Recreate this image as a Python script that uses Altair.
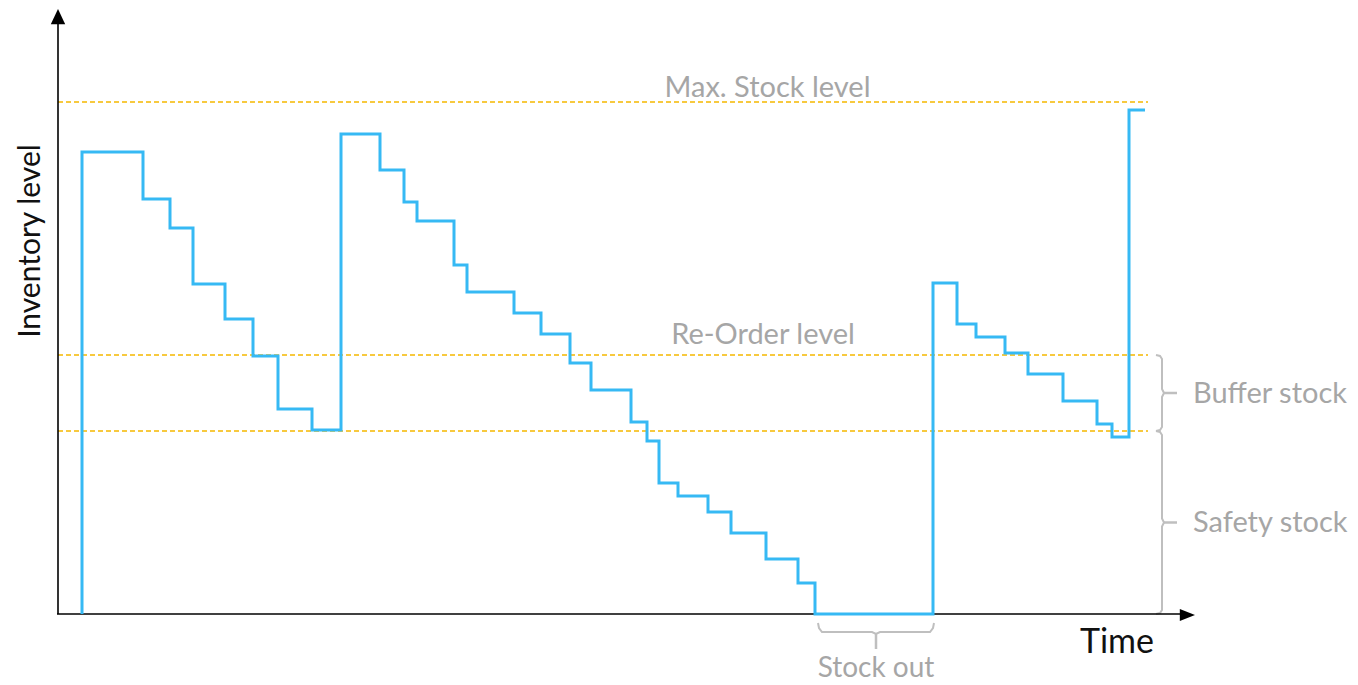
import altair as alt
import pandas as pd

# ---- data (time / inventory level units) ----
time = [24, 24, 85, 112, 135, 167, 195, 220, 254, 283, 322, 346, 359, 396, 409, 456,
        483, 512, 533, 573, 589, 601, 620, 650, 673, 708, 740, 757, 875, 899, 918, 947,
        970, 1005, 1039, 1054, 1071, 1087]
level = [0, 462, 415, 386, 330, 295, 258, 205, 184, 480, 444, 412, 393, 349, 322, 301,
         280, 251, 224, 192, 173, 131, 118, 102, 81, 55, 31, 0, 331, 290, 277, 261,
         240, 213, 190, 177, 504, 504]

MAX_LEVEL = 512
REORDER_LEVEL = 259
SAFETY_LEVEL = 183
LINE_END = 1090
STOCKOUT_START = 760
STOCKOUT_END = 876
BRACE_X = 1098
AXIS_X_END = 1122
AXIS_Y_END = 590

ref_names = ["Max. Stock level", "Re-Order level", "Safety level"]
ref_levels = [MAX_LEVEL, REORDER_LEVEL, SAFETY_LEVEL]

BLUE = "#36B9F4"
ORANGE = "#F5B800"
GRAY = "#A6A6A6"
BRACE_GRAY = "#BFBFBF"
FONT = "Lato"

XD = [-50, 1292]
YD = [-71, 606]
xs = alt.Scale(domain=XD, nice=False, zero=False)
ys = alt.Scale(domain=YD, nice=False, zero=False)

steps = pd.DataFrame({"t": time, "v": level, "i": range(len(time))})
refs = pd.DataFrame({"name": ref_names, "v": ref_levels, "t0": [0] * 3, "t1": [LINE_END] * 3})


def vbrace(x0, hi, lo, bid):
    m = (hi + lo) / 2
    pts = [(x0, hi), (x0 + 4, hi - 1), (x0 + 6, hi - 4), (x0 + 6, m + 4), (x0 + 8, m),
           (x0 + 6, m - 4), (x0 + 6, lo + 4), (x0 + 4, lo + 1), (x0, lo)]
    return [{"t": a, "v": b, "i": k, "b": bid} for k, (a, b) in enumerate(pts)], (x0 + 8, x0 + 21, m)


def hbrace(s, e, bid):
    m = (s + e) / 2
    pts = [(s, -9), (s + 1, -14), (s + 4, -18), (m - 4, -18), (m, -20), (m + 4, -18),
           (e - 4, -18), (e - 1, -14), (e, -9)]
    return [{"t": a, "v": b, "i": k, "b": bid} for k, (a, b) in enumerate(pts)], m


b1, d1 = vbrace(BRACE_X, REORDER_LEVEL, SAFETY_LEVEL, "buffer")
b2, d2 = vbrace(BRACE_X, SAFETY_LEVEL, 0, "safety")
b3, m3 = hbrace(STOCKOUT_START, STOCKOUT_END, "stockout")
braces = pd.DataFrame(b1 + b2 + b3)
dashes = pd.DataFrame([
    {"t": d1[0], "t2": d1[1], "v": d1[2], "v2": d1[2]},
    {"t": d2[0], "t2": d2[1], "v": d2[2], "v2": d2[2]},
    {"t": m3, "t2": m3, "v": -20, "v2": -35},
])

X = alt.X("t:Q", scale=xs, axis=None)
Y = alt.Y("v:Q", scale=ys, axis=None)

axes = pd.DataFrame([
    {"t": -1, "t2": AXIS_X_END, "v": 0, "v2": 0},
    {"t": 0, "t2": 0, "v": 0, "v2": AXIS_Y_END},
])
axis_rules = alt.Chart(axes).mark_rule(color="black", strokeWidth=1.6).encode(
    x=X, x2="t2:Q", y=Y, y2="v2:Q")

arrow_up = alt.Chart(pd.DataFrame({"t": [0], "v": [AXIS_Y_END + 7]})).mark_point(
    shape="M0,-1L0.9,0.9L-0.9,0.9Z", size=256, filled=True, opacity=1, color="black",
    strokeWidth=0).encode(x=X, y=Y)
arrow_right = alt.Chart(pd.DataFrame({"t": [AXIS_X_END + 7], "v": [-1]})).mark_point(
    shape="M1,0L-0.9,-0.75L-0.9,0.75Z", size=256, filled=True, opacity=1, color="black",
    strokeWidth=0).encode(x=X, y=Y)

ref_rules = alt.Chart(refs).mark_rule(color=ORANGE, strokeWidth=1.6, strokeDash=[5, 3]).encode(
    x=alt.X("t0:Q", scale=xs, axis=None), x2="t1:Q", y=Y)

step_line = alt.Chart(steps).mark_line(interpolate="step-after", color=BLUE, strokeWidth=3).encode(
    x=X, y=Y, order="i:Q")

brace_lines = alt.Chart(braces).mark_line(color=BRACE_GRAY, strokeWidth=2).encode(
    x=X, y=Y, detail="b:N", order="i:Q")
brace_dash = alt.Chart(dashes).mark_rule(color=BRACE_GRAY, strokeWidth=2.5).encode(
    x=X, x2="t2:Q", y=Y, y2="v2:Q")

def label(text, t, v, size, color, align="center", dy=0, angle=0):
    return alt.Chart(pd.DataFrame({"t": [t], "v": [v], "txt": [text]})).mark_text(
        font=FONT, fontSize=size, color=color, align=align, baseline="alphabetic",
        dy=dy, angle=angle).encode(x=X, y=Y, text="txt:N")

labels = [
    label("Max. Stock level", 709.5, MAX_LEVEL, 29, GRAY, dy=-5),
    label("Re-Order level", 705, REORDER_LEVEL, 29, GRAY, dy=-11),
    label("Buffer stock", 1135, (REORDER_LEVEL + SAFETY_LEVEL) / 2, 29, GRAY, align="left", dy=10),
    label("Safety stock", 1135, SAFETY_LEVEL / 2, 29, GRAY, align="left", dy=9.5),
    label("Stock out", m3, 0, 28, GRAY, dy=63),
    label("Time", 1059, 0, 34, "#111111", dy=39),
    label("Inventory level", -18, 373, 30, "#111111", angle=270),
]

chart = alt.layer(ref_rules, brace_lines, brace_dash, axis_rules, arrow_up, arrow_right,
                  step_line, *labels).properties(
    width=1342, height=677, padding=0, autosize=alt.AutoSizeParams(type="none")
).configure_view(stroke=None)

chart.save("out.html", embed_options={"renderer": "svg", "actions": False})
